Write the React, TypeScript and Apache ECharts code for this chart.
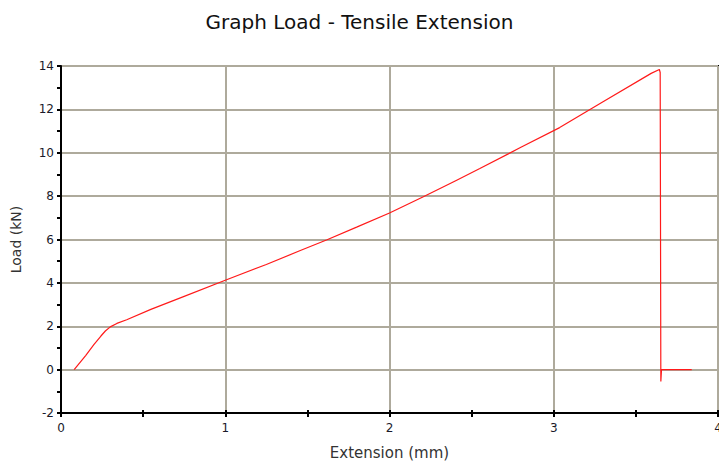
import React, { useEffect, useRef } from "react";
import * as echarts from "echarts";

const extensionMm = [
  0.08, 0.15, 0.2, 0.243, 0.27, 0.3, 0.34, 0.4, 0.547, 0.75, 1.0, 1.25, 1.457, 1.62, 1.8, 2.0,
  2.206, 2.4, 2.55, 2.8, 3.036, 3.3, 3.593, 3.643, 3.648, 3.652, 3.656, 3.84,
];
const loadKN = [
  0, 0.65, 1.15, 1.55, 1.78, 1.97, 2.13, 2.3, 2.78, 3.38, 4.12, 4.85, 5.49, 5.99, 6.57, 7.22,
  7.97, 8.7, 9.27, 10.25, 11.16, 12.35, 13.66, 13.84, 13.7, -0.55, 0, 0,
];
const xTicks = [0, 1, 2, 3, 4];
const yTicks = [-2, 0, 2, 4, 6, 8, 10, 12, 14];

const FONT = "DejaVu Sans, Verdana, sans-serif";

export default function App() {
  const ref = useRef<HTMLDivElement>(null);
  useEffect(() => {
    if (!ref.current) return;
    const chart = echarts.init(ref.current, undefined, { renderer: "svg" });
    const data = extensionMm.map((x, i) => [x, loadKN[i]]);
    const xMin = xTicks[0];
    const xMax = xTicks[xTicks.length - 1];
    const yMin = yTicks[0];
    const yMax = yTicks[yTicks.length - 1];
    const baseX = {
      type: "value",
      position: "bottom",
      min: xMin,
      max: xMax,
      interval: 1,
    };
    const baseY = {
      type: "value",
      position: "left",
      min: yMin,
      max: yMax,
      interval: 2,
    };
    chart.setOption({
      animation: false,
      backgroundColor: "#ffffff",
      title: {
        text: "Graph Load - Tensile Extension",
        left: "center",
        top: 7,
        textStyle: { fontFamily: FONT, fontSize: 20, fontWeight: "normal", color: "#111111" },
      },
      grid: {
        left: 61,
        top: 66,
        width: 657,
        height: 347,
        containLabel: false,
        outerBoundsMode: "none",
        show: true,
        borderColor: "#000000",
        borderWidth: 2,
      },
      xAxis: [
        {
          ...baseX,
          name: "Extension (mm)",
          nameLocation: "middle",
          nameGap: 32,
          nameTextStyle: { fontFamily: FONT, fontSize: 15, color: "#333333" },
          axisLine: { show: true, onZero: false, lineStyle: { color: "#000000", width: 2 } },
          axisTick: { show: true, length: 4, lineStyle: { color: "#000000", width: 2 } },
          minorTick: { show: true, splitNumber: 2, length: 4, lineStyle: { color: "#000000", width: 2 } },
          axisLabel: { fontFamily: FONT, fontSize: 12, color: "#1a1a2a", margin: 9 },
          splitLine: { show: true, lineStyle: { color: "#aeaa9c", width: 2 } },
        },
        {
          ...baseX,
          axisLine: { show: false, onZero: false },
          axisTick: { show: true, inside: true, length: 3, lineStyle: { color: "#000000", width: 2 } },
          minorTick: { show: true, splitNumber: 2, length: 3, lineStyle: { color: "#000000", width: 2 } },
          axisLabel: { show: false },
          splitLine: { show: false },
        },
      ],
      yAxis: [
        {
          ...baseY,
          name: "Load (kN)",
          nameLocation: "middle",
          nameGap: 38,
          nameRotate: 90,
          nameTextStyle: { fontFamily: FONT, fontSize: 14, color: "#333333" },
          axisLine: { show: true, onZero: false, lineStyle: { color: "#000000", width: 2 } },
          axisTick: { show: true, length: 4, lineStyle: { color: "#000000", width: 2 } },
          minorTick: { show: true, splitNumber: 2, length: 4, lineStyle: { color: "#000000", width: 2 } },
          axisLabel: { fontFamily: FONT, fontSize: 12, color: "#1a1a2a", margin: 7 },
          splitLine: { show: true, lineStyle: { color: "#aeaa9c", width: 2 } },
        },
        {
          ...baseY,
          axisLine: { show: false, onZero: false },
          axisTick: { show: false },
          minorTick: { show: true, splitNumber: 2, length: 3, lineStyle: { color: "#000000", width: 2 } },
          axisLabel: { show: false },
          splitLine: { show: false },
        },
      ],
      series: [
        {
          type: "line",
          xAxisIndex: 0,
          yAxisIndex: 0,
          data,
          showSymbol: false,
          symbol: "none",
          smooth: false,
          lineStyle: { color: "#ff1a1a", width: 1.2 },
          clip: false,
        },
      ],
    });
    return () => chart.dispose();
  }, []);
  return (
    <div
      ref={ref}
      style={{ position: "fixed", left: 0, top: 0, width: 719, height: 464 }}
    />
  );
}
